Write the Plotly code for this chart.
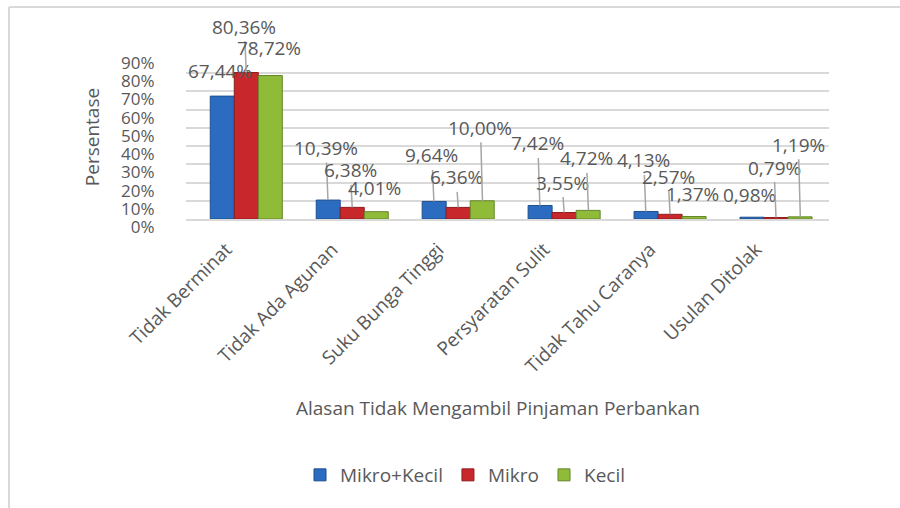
import plotly.graph_objects as go

categories = ["Tidak Berminat", "Tidak Ada Agunan", "Suku Bunga Tinggi",
              "Persyaratan Sulit", "Tidak Tahu Caranya", "Usulan Ditolak"]
series_names = ["Mikro+Kecil", "Mikro", "Kecil"]
mikro_kecil = [67.44, 10.39, 9.64, 7.42, 4.13, 0.98]
mikro = [80.36, 6.38, 6.36, 3.55, 2.57, 0.79]
kecil = [78.72, 4.01, 10.00, 4.72, 1.37, 1.19]
y_ticks = [0, 10, 20, 30, 40, 50, 60, 70, 80, 90]

# label placement (pixel offsets above bar top) and whether a leader line shows
label_dy = [[-25, -52, -46, -62, -51, -22],
            [-46, -37, -30, -30, -37, -50],
            [-28, -24, -73, -52, -23, -72]]
label_line = [[False, True, True, True, True, False],
              [True, True, True, True, True, True],
              [False, False, True, True, False, True]]

colors = ["#2b6cc0", "#c8282b", "#8fbb38"]
edge = ["#1d4f8f", "#8e1b1d", "#64852a"]
txt = "#595959"
FONT = "Open Sans"

L, R, T, B = 186, 71, 55, 289
W, H = 900, 508
pw, ph = W - L - R, H - T - B
bargap = 0.32

def px_to_paper_x(p):
    return (p - L) / pw

def px_to_paper_y(p):
    return (H - B - p) / ph

fig = go.Figure()
all_vals = [mikro_kecil, mikro, kecil]
for name, vals, c, e in zip(series_names, all_vals, colors, edge):
    fig.add_trace(go.Bar(x=categories, y=vals, name=name,
                         marker=dict(color=c, line=dict(color=e, width=1))))

cat_px = pw / len(categories)
bar_px = cat_px * (1 - bargap) / 3
annotations = []
for s, vals in enumerate(all_vals):
    for i, v in enumerate(vals):
        annotations.append(dict(
            x=categories[i], y=v, xref="x", yref="y",
            xshift=(s - 1) * bar_px,
            text=f"{v:.2f}".replace(".", ",") + "%",
            showarrow=True, arrowhead=0, arrowwidth=1.5,
            arrowcolor="#a6a6a6" if label_line[s][i] else "rgba(0,0,0,0)",
            ax=-2, ay=label_dy[s][i], standoff=0,
            font=dict(family=FONT, size=19, color=txt)))

annotations.append(dict(
    text="Alasan Tidak Mengambil Pinjaman Perbankan",
    x=px_to_paper_x(498), y=px_to_paper_y(408), xref="paper", yref="paper",
    showarrow=False, xanchor="center", yanchor="middle",
    font=dict(family=FONT, size=19, color=txt)))

fig.update_layout(
    width=W, height=H,
    margin=dict(l=L, r=R, t=T, b=B, autoexpand=False),
    paper_bgcolor="white", plot_bgcolor="white",
    barmode="group", bargap=bargap, bargroupgap=0,
    font=dict(family=FONT, color=txt),
    showlegend=True,
    legend=dict(orientation="h", x=px_to_paper_x(465), y=px_to_paper_y(475),
                xanchor="center", yanchor="middle",
                font=dict(family=FONT, size=19, color=txt),
                itemwidth=30, traceorder="normal"),
    annotations=annotations,
    shapes=[
        dict(type="line", xref="paper", yref="paper",
             x0=px_to_paper_x(9), x1=px_to_paper_x(905),
             y0=px_to_paper_y(7), y1=px_to_paper_y(7),
             line=dict(color="#d9d9d9", width=2), layer="below"),
        dict(type="line", xref="paper", yref="paper",
             x0=px_to_paper_x(9), x1=px_to_paper_x(9),
             y0=px_to_paper_y(7), y1=px_to_paper_y(515),
             line=dict(color="#d9d9d9", width=2), layer="below"),
    ],
)
fig.update_xaxes(
    tickangle=-45, tickfont=dict(family=FONT, size=19, color=txt),
    ticklabelshift=-20,
    showline=True, linecolor="#d9d9d9", linewidth=2,
    showgrid=False, ticks="outside", ticklen=10, tickcolor="rgba(0,0,0,0)")
fig.update_yaxes(
    range=[0, 90], tickvals=y_ticks, ticktext=[f"{t}%" for t in y_ticks],
    tickfont=dict(family=FONT, size=17, color=txt),
    ticklabelshift=8,
    showgrid=True, gridcolor="#d9d9d9", gridwidth=2,
    zeroline=False, ticks="outside", ticklen=27, tickcolor="rgba(0,0,0,0)",
    title=dict(text="Persentase", font=dict(family=FONT, size=19, color=txt),
               standoff=16))

fig.write_html(
    "out.html",
    config={"displayModeBar": False},
    post_script="document.body.style.margin='0';"
                "document.body.style.overflow='hidden';")
